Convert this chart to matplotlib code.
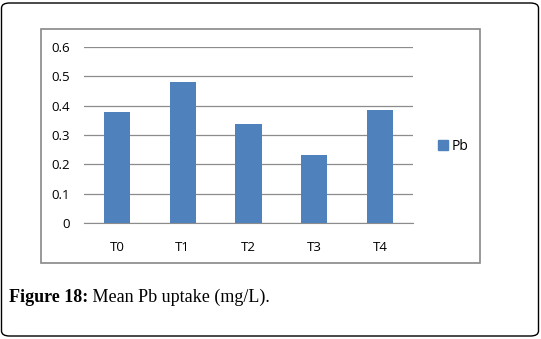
import matplotlib
matplotlib.use('Agg')
import matplotlib.pyplot as plt
import matplotlib.patches as mpatches

# Chart data
categories = ['T0', 'T1', 'T2', 'T3', 'T4']
pb_values = [0.378, 0.48, 0.337, 0.232, 0.385]
y_ticks = [0, 0.1, 0.2, 0.3, 0.4, 0.5, 0.6]
series_name = 'Pb'
caption_bold = 'Figure 18:'
caption_rest = ' Mean Pb uptake (mg/L).'

W, H = 541, 339
bar_color = '#4F81BD'
grid_color = '#8C8C8C'

fig = plt.figure(figsize=(W / 100, H / 100), dpi=100)

# Outer rounded border of the figure box
outer = mpatches.FancyBboxPatch((1.5 / W, 3 / H), 537 / W, 333 / H,
	boxstyle='round,pad=0,rounding_size=0.015', transform=fig.transFigure,
	facecolor='white', edgecolor='black', linewidth=1.0, zorder=-3)
fig.patches.append(outer)

# Gray chart frame
frame = mpatches.Rectangle((41 / W, 76 / H), 439 / W, 234 / H, transform=fig.transFigure,
	facecolor='white', edgecolor='#878787', linewidth=1.2, zorder=-2)
fig.patches.append(frame)

ax = fig.add_axes([84 / W, (H - 223.3) / H, 329 / W, 176.6 / H])
ax.patch.set_alpha(0)
x = list(range(len(categories)))
ax.bar(x, pb_values, width=0.4, color=bar_color, zorder=3)
ax.set_xlim(-0.5, len(categories) - 0.5)
ax.set_ylim(0, 0.6)
ax.set_yticks(y_ticks)
ax.set_yticklabels(['0' if v == 0 else '%.1f' % v for v in y_ticks])
ax.set_xticks(x)
ax.set_xticklabels(categories)
ax.yaxis.grid(True, color=grid_color, linewidth=0.9, zorder=0)
ax.set_axisbelow(True)
for s in ['top', 'right', 'left']:
	ax.spines[s].set_visible(False)
ax.spines['bottom'].set_color(grid_color)
ax.tick_params(axis='both', length=0, labelsize=9.5, labelcolor='black')
ax.tick_params(axis='y', pad=10)
ax.tick_params(axis='x', pad=13)
for lab in ax.get_xticklabels() + ax.get_yticklabels():
	lab.set_family('Open Sans')

# Legend
handle = mpatches.Patch(color=bar_color, label=series_name)
fig.legend(handles=[handle], loc='center left', bbox_to_anchor=(431 / W, 1 - 146.7 / H),
	frameon=False, handlelength=0.7, handleheight=0.7, handletextpad=0.3,
	borderpad=0, prop={'family': 'Open Sans', 'size': 10})

# Caption, bold part then regular part
t1 = fig.text(9 / W, 1 - 302 / H, caption_bold, fontsize=13, fontweight='bold',
	family='Liberation Serif', va='baseline', ha='left')
renderer = fig.canvas.get_renderer()
bb = t1.get_window_extent(renderer=renderer)
fig.text(bb.x1 / W, 1 - 302 / H, caption_rest, fontsize=13,
	family='Liberation Serif', va='baseline', ha='left')

fig.savefig('out.png', dpi=100)
